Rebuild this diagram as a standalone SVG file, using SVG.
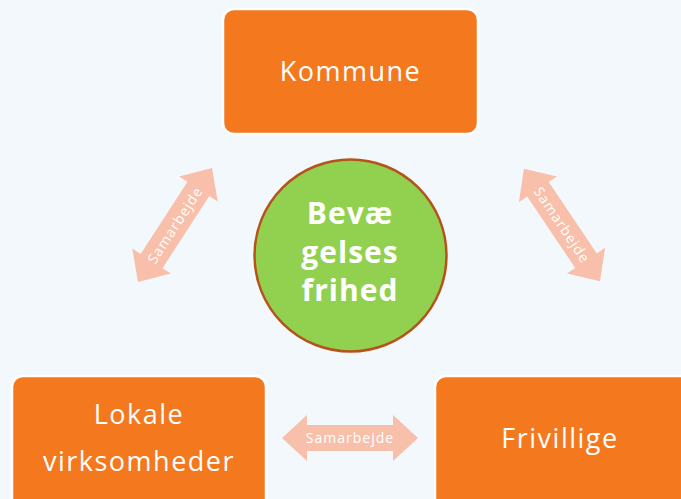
<svg xmlns="http://www.w3.org/2000/svg" width="681" height="499" viewBox="0 0 681 499">
<defs>
<style>
.box{fill:#f4781e;stroke:#ffffff;stroke-width:2.5}
.lbl{fill:#ffffff;font-family:"Open Sans","DejaVu Sans",sans-serif;font-size:27px;letter-spacing:1.5px;text-anchor:middle}
.ctr{fill:#ffffff;font-family:"Open Sans","DejaVu Sans",sans-serif;font-size:30px;font-weight:bold;letter-spacing:1px;text-anchor:middle}
.arr{fill:#f8bfaa}
.at{fill:#ffffff;font-family:"Open Sans","DejaVu Sans",sans-serif;font-size:14px;letter-spacing:1px;text-anchor:middle}
</style>
<path id="dbl" d="M-68,0 L-43,-23 L-43,-13 L43,-13 L43,-23 L68,0 L43,23 L43,13 L-43,13 L-43,23 Z"/>
</defs>
<rect width="681" height="499" fill="#f3f8fc"/>
<g id="connectors">
<g transform="translate(175,225) rotate(-57)">
<use href="#dbl" class="arr"/>
<text class="at" y="5">Samarbejde</text>
</g>
<g transform="translate(562,225) rotate(56)">
<use href="#dbl" class="arr"/>
<text class="at" y="5">Samarbejde</text>
</g>
<g transform="translate(350,438)">
<use href="#dbl" class="arr"/>
<text class="at" y="5">Samarbejde</text>
</g>
</g>
<g id="kommune">
<rect class="box" x="223" y="9" width="255" height="125" rx="11"/>
<text class="lbl" x="350.5" y="81">Kommune</text>
</g>
<g id="lokale">
<rect class="box" x="12" y="376" width="254" height="140" rx="11"/>
<text class="lbl" x="139" y="424">Lokale</text>
<text class="lbl" x="139" y="471">virksomheder</text>
</g>
<g id="frivillige">
<rect class="box" x="435" y="376" width="260" height="140" rx="11"/>
<text class="lbl" x="560" y="448">Frivillige</text>
</g>
<g id="center">
<circle cx="350.5" cy="255.5" r="96" fill="#92d050" stroke="#b5531b" stroke-width="2.5"/>
<text class="ctr" x="350" y="224">Bevæ</text>
<text class="ctr" x="350" y="263">gelses</text>
<text class="ctr" x="350" y="301">frihed</text>
</g>
</svg>
